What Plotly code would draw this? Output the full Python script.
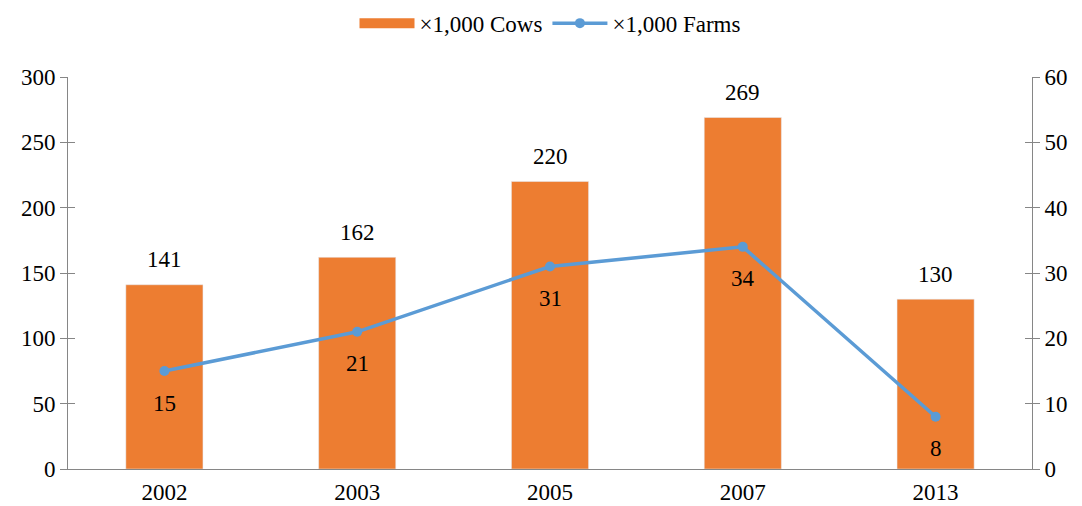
import plotly.graph_objects as go

years = ["2002", "2003", "2005", "2007", "2013"]
cows = [141, 162, 220, 269, 130]
farms = [15, 21, 31, 34, 8]
left_ticks = [0, 50, 100, 150, 200, 250, 300]
right_ticks = [0, 10, 20, 30, 40, 50, 60]

FONT = "Liberation Serif, Times New Roman, serif"
AX = "#868686"
ORANGE = "#ED7D31"
BLUE = "#5B9BD5"
FS = 23

fig = go.Figure()
fig.add_trace(go.Bar(
    x=years, y=cows, name="×1,000 Cows", marker_color=ORANGE, showlegend=False,
))
# legend swatch for the bars (wide rectangle)
fig.add_trace(go.Scatter(
    x=[years[0]], y=[None], name="×1,000 Cows", mode="lines",
    line=dict(color=ORANGE, width=12), hoverinfo="skip",
))
fig.add_trace(go.Scatter(
    x=years, y=farms, name="×1,000 Farms", yaxis="y2", mode="lines+markers",
    line=dict(color=BLUE, width=3.5), marker=dict(size=10, color=BLUE), cliponaxis=False,
))

# category index positions for the data labels
for i, v in enumerate(cows):
    fig.add_annotation(x=i, y=v, xref="x", yref="y", text=str(v), showarrow=False,
                       yanchor="middle", yshift=25, font=dict(size=FS, color="black", family=FONT))
for i, v in enumerate(farms):
    fig.add_annotation(x=i, y=v, xref="x", yref="y2", text=str(v), showarrow=False,
                       yanchor="middle", yshift=-32, font=dict(size=FS, color="black", family=FONT))

fig.update_layout(
    width=1082, height=506,
    margin=dict(l=60, r=58, t=69, b=45, autoexpand=False),
    plot_bgcolor="white", paper_bgcolor="white",
    font=dict(family=FONT, size=FS, color="black"),
    bargap=0.6,
    showlegend=True,
    legend=dict(orientation="h", x=0.5, xanchor="center", y=0.97, yanchor="middle",
                yref="container", font=dict(size=FS), itemwidth=55),
    xaxis=dict(type="category", categoryorder="array", categoryarray=years,
               range=[-0.5, len(years) - 0.5], ticklabelstandoff=2,
               showline=True, linecolor=AX, linewidth=1, ticks="", showgrid=False,
               tickfont=dict(size=FS)),
    yaxis=dict(range=[0, 300], tickvals=left_ticks, showline=True, linecolor=AX,
               ticks="outside", ticklen=7, tickcolor=AX, showgrid=False, zeroline=False,
               tickfont=dict(size=FS)),
    yaxis2=dict(range=[0, 60], tickvals=right_ticks, overlaying="y", side="right",
                showline=True, linecolor=AX, ticks="outside", ticklen=7, tickcolor=AX,
                showgrid=False, zeroline=False, tickfont=dict(size=FS)),
    yaxis3=dict(range=[0, 300], tickvals=left_ticks, overlaying="y", side="left",
                showline=False, ticks="inside", ticklen=7, tickcolor=AX,
                showticklabels=False, showgrid=False, zeroline=False),
    yaxis4=dict(range=[0, 60], tickvals=right_ticks, overlaying="y", side="right",
                showline=False, ticks="inside", ticklen=7, tickcolor=AX,
                showticklabels=False, showgrid=False, zeroline=False),
)
fig.add_trace(go.Scatter(x=years, y=cows, yaxis="y3", mode="none", showlegend=False, hoverinfo="skip"))
fig.add_trace(go.Scatter(x=years, y=farms, yaxis="y4", mode="none", showlegend=False, hoverinfo="skip"))

fig.write_html("out.html")
